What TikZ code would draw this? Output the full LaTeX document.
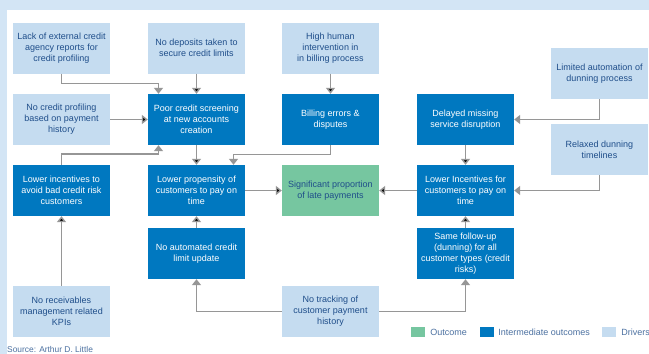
\documentclass[tikz,border=0pt]{standalone}
\usepackage{fontspec}
\setmainfont{Liberation Sans}
\usetikzlibrary{arrows.meta,calc}
\definecolor{bandblue}{RGB}{211,229,245}
\definecolor{drvblue}{RGB}{197,220,240}
\definecolor{midblue}{RGB}{0,120,192}
\definecolor{outgreen}{RGB}{118,198,160}
\definecolor{txtblue}{RGB}{31,78,138}
\definecolor{arrgray}{RGB}{150,150,150}
\tikzset{
	box/.style={minimum width=97pt, minimum height=51pt, inner sep=0pt, align=center,
		font=\fontsize{9}{11}\selectfont},
	driver/.style={box, fill=drvblue, text=txtblue},
	interm/.style={box, fill=midblue, text=white},
	outcome/.style={box, fill=outgreen, text=txtblue},
	link/.style={draw=arrgray, line width=1.4pt, -{Triangle[length=6pt,width=9pt]}},
	keybox/.style={minimum width=14pt, minimum height=10pt, inner sep=0pt},
	keytext/.style={anchor=west, inner sep=0pt, text=txtblue!80, font=\fontsize{9}{11}\selectfont}
}

\begin{document}
\begin{tikzpicture}[x=1pt,y=-1pt]
	\useasboundingbox (0,0) rectangle (649,354);
	\fill[bandblue] (0,0) rectangle (649,354);
	\fill[white] (7,10) rectangle (649,354);
	% drivers and outcomes
	\node[driver] (lack) at (61.5,48) {Lack of external credit\\agency reports for\\credit profiling};
	\node[driver] (deposits) at (196.5,48) {No deposits taken to\\secure credit limits};
	\node[driver] (human) at (330.5,48) {High human\\intervention in\\in billing process};
	\node[driver] (limited) at (599.5,73.5) {Limited automation of\\dunning process};
	\node[driver] (profiling) at (61.5,119.5) {No credit profiling\\based on payment\\history};
	\node[interm] (screening) at (196.5,119.5) {Poor credit screening\\at new accounts\\creation};
	\node[interm] (billing) at (330.5,119.5) {Billing errors \&\\disputes};
	\node[interm] (delayed) at (465.5,119.5) {Delayed missing\\service disruption};
	\node[driver] (relaxed) at (599.5,149.5) {Relaxed dunning\\timelines};
	\node[interm] (avoid) at (61.5,190.5) {Lower incentives to\\avoid bad credit risk\\customers};
	\node[interm] (propensity) at (196.5,190.5) {Lower propensity of\\customers to pay on\\time};
	\node[outcome] (late) at (330.5,190.5) {Significant proportion\\of late payments};
	\node[interm] (lowinc) at (465.5,190.5) {Lower Incentives for\\customers to pay on\\time};
	\node[interm] (noauto) at (196.5,253.5) {No automated credit\\limit update};
	\node[interm] (same) at (465.5,253.5) {Same follow-up\\(dunning) for all\\customer types (credit\\risks)};
	\node[driver] (kpis) at (61.5,311.5) {No receivables\\management related\\KPIs};
	\node[driver] (tracking) at (330.5,311.5) {No tracking of\\customer payment\\history};
	% connectors
	\draw[link] (lack.south) -- ++(0,10) -| ([xshift=-38]screening.north);
	\draw[link] (avoid.north) -- ++(0,-11) -| ([xshift=-38]screening.south);
	\draw[link] (billing.south) -- ++(0,9) -| ([xshift=37]propensity.north);
	\draw[link] (limited.south) |- (delayed.east);
	\draw[link] (relaxed.south) |- (lowinc.east);
	\draw[link] (tracking.west) -| (noauto.south);
	\draw[link] (tracking.east) -| (same.south);
	\path[link]
	(deposits) edge (screening)
	(human) edge (billing)
	(profiling) edge (screening)
	(screening) edge (propensity)
	(propensity) edge (late)
	(lowinc) edge (late)
	(delayed) edge (lowinc)
	(noauto) edge (propensity)
	(same) edge (lowinc)
	(kpis) edge (avoid);
	% legend
	\node[keybox, fill=outgreen] (kout) at (418,332) {};
	\node[keytext] (tout) at ([xshift=5]kout.east) {Outcome};
	\node[keybox, fill=midblue] (kmid) at (487,332) {};
	\node[keytext] (tmid) at ([xshift=4]kmid.east) {Intermediate outcomes};
	\node[keybox, fill=drvblue] (kdrv) at (609,332) {};
	\node[keytext] (tdrv) at ([xshift=5]kdrv.east) {Drivers};
	\node[anchor=west, inner sep=0pt, text=txtblue!80, font=\fontsize{8.4}{9}\selectfont] (source) at (7,349) {Source: Arthur D. Little};
\end{tikzpicture}
\end{document}
